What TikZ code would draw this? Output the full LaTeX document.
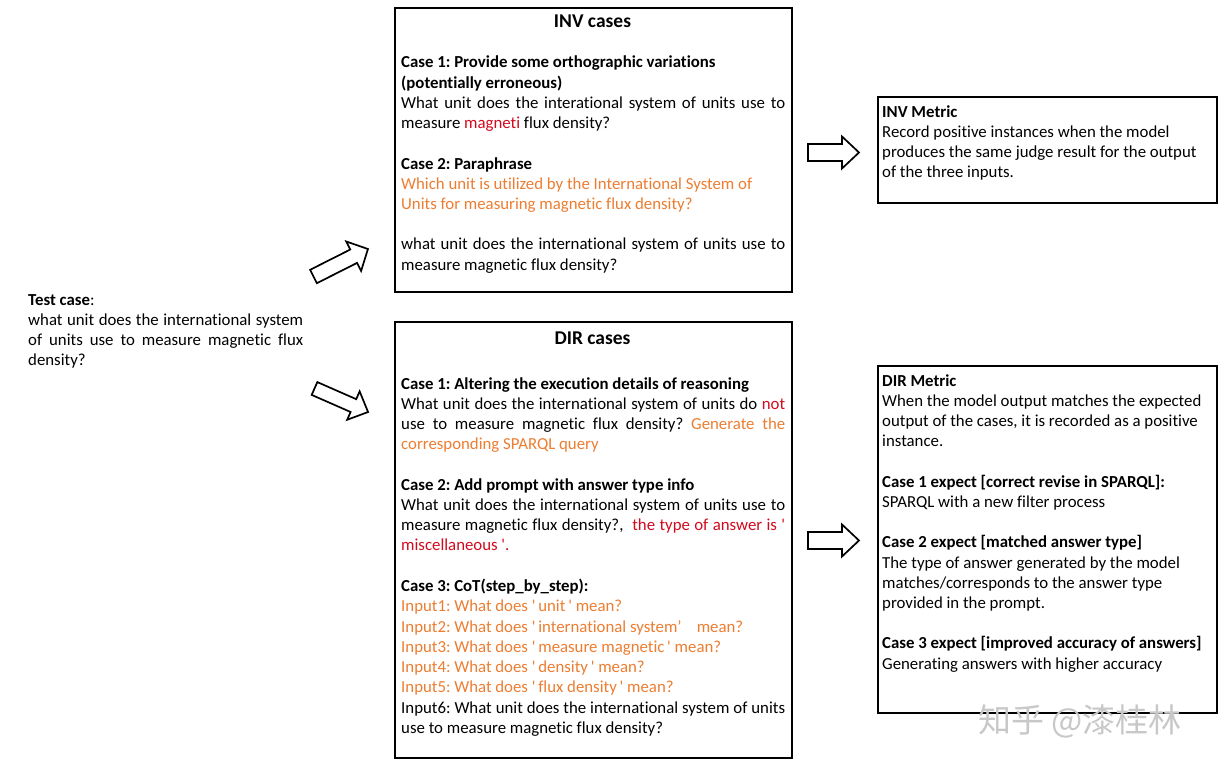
\documentclass[tikz,border=0pt]{standalone}
\usepackage{fontspec}
\setmainfont[Ligatures={TeX,NoCommon}]{Carlito}
\newfontfamily\cjkfont{Noto Sans CJK SC}
\definecolor{orng}{RGB}{237,125,49}
\definecolor{rd}{RGB}{210,10,30}
\definecolor{wm}{RGB}{200,200,200}
\frenchspacing
\newcommand\txtline[4]{\node[tline] (#1) at (#2,#3+1) {#4};}
\newcommand\jl[2]{\makebox[#1pt][s]{#2}}
\newcommand\sq{\textquotesingle}
\newcommand\blockarrow[8]{% name, x, y, angle, length, shaft, head width, head length
  \coordinate (#1) at (#2,#3);
  \draw[barrow, shift={(#1)}, rotate=#4]
    (0,-#6/2) -- (#5-#8,-#6/2) -- (#5-#8,-#7/2) -- (#5,0) -- (#5-#8,#7/2)
    -- (#5-#8,#6/2) -- (0,#6/2) -- cycle;}
\begin{document}
\begin{tikzpicture}[x=1pt,y=-1pt,
  box/.style={draw=black, line width=1.7pt, inner sep=0pt, anchor=north west},
  tline/.style={anchor=base west, inner sep=0pt, font=\fontsize{16.8}{20.2}\selectfont},
  title/.style={anchor=base, inner sep=0pt, font=\fontsize{19.5}{22}\selectfont\bfseries},
  barrow/.style={draw=black, line width=1.7pt, fill=white, line join=miter}]
\useasboundingbox (0,0) rectangle (1226,770);
\fill[white] (0,0) rectangle (1226,770);

% boxes
\node[box, minimum width=397pt, minimum height=284pt] (inv) at (394,7) {};
\node[box, minimum width=397pt, minimum height=436pt] (dir) at (394,321) {};
\node[box, minimum width=339pt, minimum height=106pt] (invm) at (877,96) {};
\node[box, minimum width=339pt, minimum height=347pt] (dirm) at (877,365) {};

% INV cases
\node[title] (invt) at (592.5,28) {INV cases};
\txtline{i1}{401}{67}{\textbf{Case 1: Provide some orthographic variations}}
\txtline{i2}{401}{87.3}{\textbf{(potentially erroneous)}}
\txtline{i3}{401}{107.5}{\jl{384}{What unit does the interational system of units use to}}
\txtline{i4}{401}{127.7}{measure \textcolor{rd}{magneti} flux density?}
\txtline{i5}{401}{168.1}{\textbf{Case 2: Paraphrase}}
\txtline{i6}{401}{188.3}{\textcolor{orng}{Which unit is utilized by the International System of}}
\txtline{i7}{401}{208.5}{\textcolor{orng}{Units for measuring magnetic flux density?}}
\txtline{i8}{401}{249}{\jl{384}{what unit does the international system of units use to}}
\txtline{i9}{401}{269}{measure magnetic flux density?}

% DIR cases
\node[title] (dirt) at (592.5,344) {DIR cases};
\txtline{d1}{401}{388}{\textbf{Case 1: Altering the execution details of reasoning}}
\txtline{d2}{401}{408.2}{\jl{384}{What unit does the international system of units do \textcolor{rd}{not}}}
\txtline{d3}{401}{428.4}{\jl{384}{use to measure magnetic flux density? \textcolor{orng}{Generate} \textcolor{orng}{the}}}
\txtline{d4}{401}{448.6}{\textcolor{orng}{corresponding SPARQL query}}
\txtline{d5}{401}{489}{\textbf{Case 2: Add prompt with answer type info}}
\txtline{d6}{401}{509.2}{\jl{384}{What unit does the international system of units use to}}
\txtline{d7}{401}{529.4}{\jl{384}{measure magnetic flux density?,\ \ \textcolor{rd}{the} \textcolor{rd}{type} \textcolor{rd}{of} \textcolor{rd}{answer} \textcolor{rd}{is} \textcolor{rd}{\sq}}}
\txtline{d8}{401}{549.6}{\textcolor{rd}{miscellaneous \sq.}}
\txtline{d9}{401}{590}{\textbf{Case 3: CoT(step\_by\_step):}}
\txtline{d10}{401}{610.6}{\textcolor{orng}{Input1: What does \sq\,unit\,\sq\ mean?}}
\txtline{d11}{401}{631}{\textcolor{orng}{Input2: What does \sq\,international system’\ \ \ \ mean?}}
\txtline{d12}{401}{651.4}{\textcolor{orng}{Input3: What does \sq\,measure magnetic\,\sq\ mean?}}
\txtline{d13}{401}{671.6}{\textcolor{orng}{Input4: What does \sq\,density\,\sq\ mean?}}
\txtline{d14}{401}{691.8}{\textcolor{orng}{Input5: What does \sq\,flux density\,\sq\ mean?}}
\txtline{d15}{401}{712}{\jl{384}{Input6: What unit does the international system of units}}
\txtline{d16}{401}{732.2}{use to measure magnetic flux density?}

% INV Metric
\txtline{m1}{882}{117}{\textbf{INV Metric}}
\txtline{m2}{882}{137}{Record positive instances when the model}
\txtline{m3}{882}{157}{produces the same judge result for the output}
\txtline{m4}{882}{177}{of the three inputs.}

% DIR Metric
\txtline{n1}{882}{385}{\textbf{DIR Metric}}
\txtline{n2}{882}{405.3}{When the model output matches the expected}
\txtline{n3}{882}{425.5}{output of the cases, it is recorded as a positive}
\txtline{n4}{882}{445.7}{instance.}
\txtline{n5}{882}{486}{\textbf{Case 1 expect [correct revise in SPARQL]:}}
\txtline{n6}{882}{506.3}{SPARQL with a new filter process}
\txtline{n7}{882}{546.7}{\textbf{Case 2 expect [matched answer type]}}
\txtline{n8}{882}{567}{The type of answer generated by the model}
\txtline{n9}{882}{587.2}{matches/corresponds to the answer type}
\txtline{n10}{882}{607.4}{provided in the prompt.}
\txtline{n11}{882}{647.7}{\textbf{Case 3 expect [improved accuracy of answers]}}
\txtline{n12}{882}{668}{Generating answers with higher accuracy}

% Test case
\txtline{t1}{28}{304}{\textbf{Test case}:}
\txtline{t2}{28}{324.2}{\jl{275}{what unit does the international system}}
\txtline{t3}{28}{344.4}{\jl{275}{of units use to measure magnetic flux}}
\txtline{t4}{28}{364.6}{density?}

% block arrows
\blockarrow{a1}{313.5}{276.5}{26.8}{61}{15}{33}{16}
\blockarrow{a2}{314.5}{388.5}{-23.7}{58.5}{14}{31}{16}
\blockarrow{a3}{808}{152.5}{0}{51}{17}{32}{17}
\blockarrow{a4}{808}{540.5}{0}{51}{17}{32}{17}

% watermark
\node[inner sep=0pt, text=wm, font=\cjkfont\fontsize{33}{36}\selectfont] (wmk) at (1080,721) {知乎 @漆桂林};
\end{tikzpicture}
\end{document}
